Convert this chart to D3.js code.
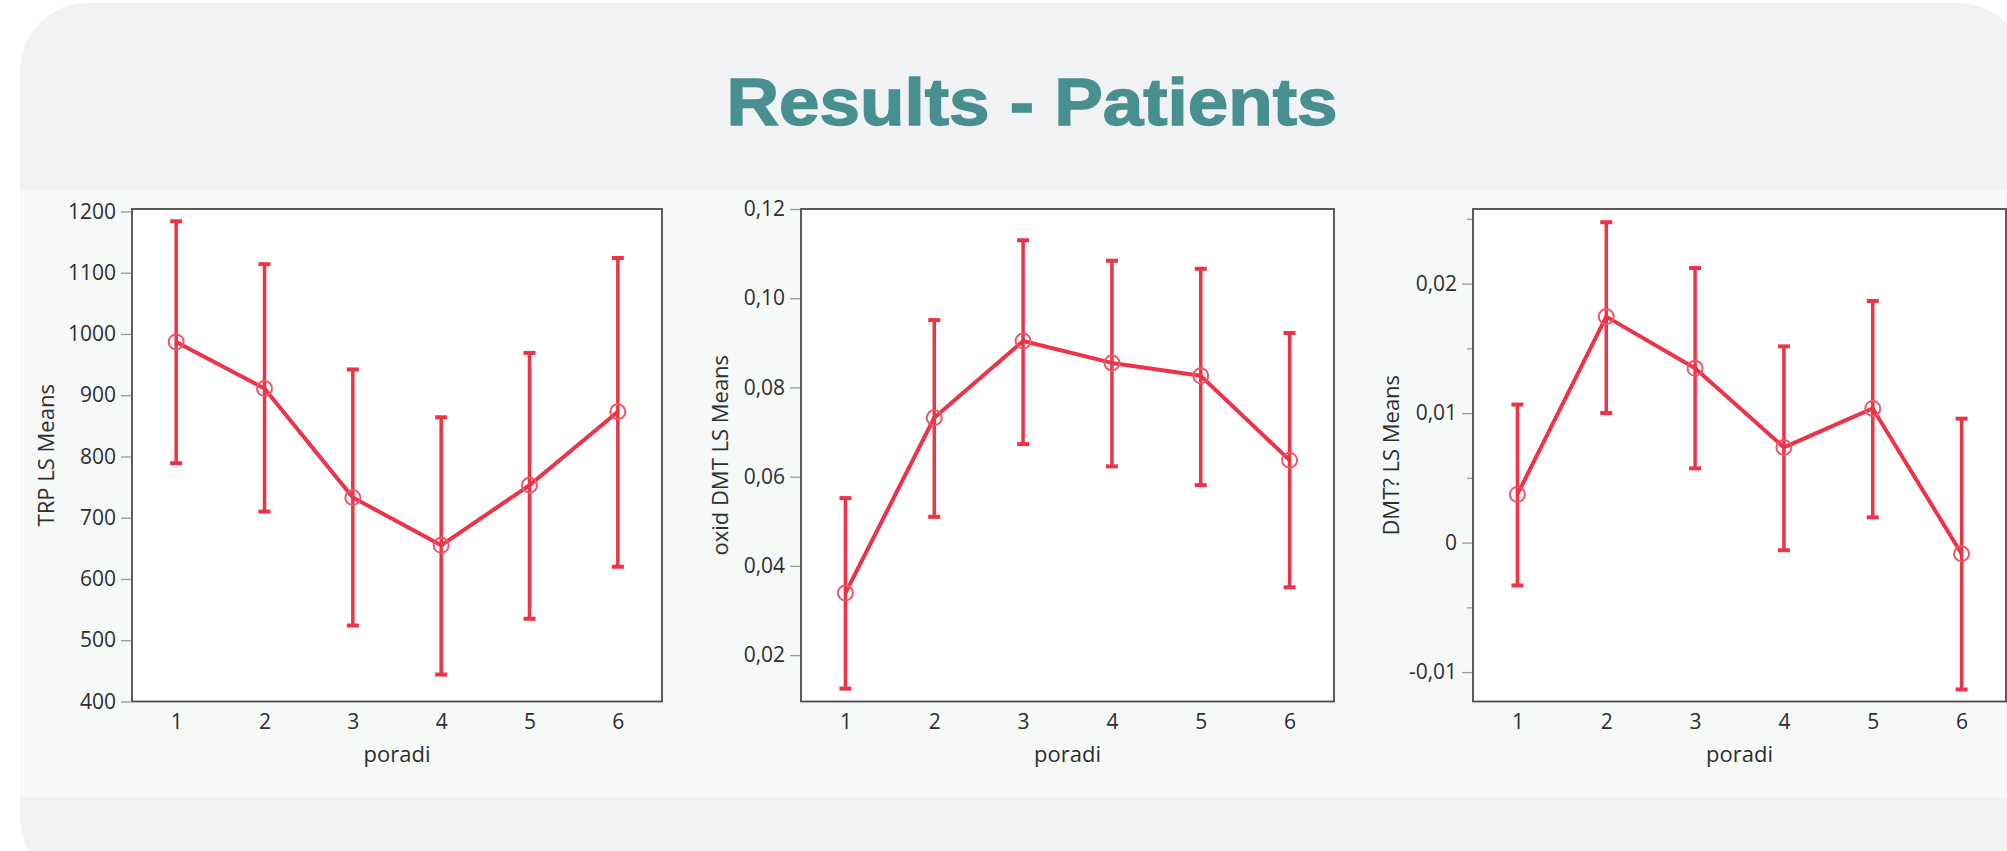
<!DOCTYPE html>
<html>
<head>
<meta charset="utf-8">
<script src="https://cdn.jsdelivr.net/npm/d3@7"></script>
<style>
  body { margin: 0; background: #fff; }
  svg { display: block; }
</style>
</head>
<body>
<svg id="chart"></svg>
<script>
// x categories
const poradi = [1, 2, 3, 4, 5, 6];

// TRP LS Means
const trpMean  = [987, 911, 733, 655, 753, 873];
const trpUpper = [1184, 1114, 942, 864, 969, 1124];
const trpLower = [789, 710, 524, 444, 535, 620];
const trpTicks = [400, 500, 600, 700, 800, 900, 1000, 1100, 1200];

// oxid DMT LS Means
const oxidMean  = [0.0339, 0.0732, 0.0904, 0.0855, 0.0826, 0.0637];
const oxidUpper = [0.0552, 0.0951, 0.1130, 0.1084, 0.1066, 0.0922];
const oxidLower = [0.0125, 0.0510, 0.0673, 0.0623, 0.0581, 0.0352];
const oxidTicks = [0.02, 0.04, 0.06, 0.08, 0.10, 0.12];

// DMT? LS Means
const dmtMean  = [0.00372, 0.01745, 0.01346, 0.00735, 0.01036, -0.00086];
const dmtUpper = [0.01066, 0.02474, 0.0212, 0.01515, 0.01866, 0.00957];
const dmtLower = [-0.00331, 0.0100, 0.00573, -0.00059, 0.00195, -0.01134];
const dmtTicks = [-0.01, 0, 0.01, 0.02];
const dmtMinorTicks = [-0.005, 0.005, 0.015, 0.025];

const width = 2007, height = 851;
const red = "#ec3348";
const font = "'Open Sans', 'Noto Sans', sans-serif";

const svg = d3.select("#chart")
    .attr("width", width)
    .attr("height", height);

// comma decimal, plain hyphen minus
const locale = d3.formatLocale({decimal: ",", thousands: " ", grouping: [3], currency: ["", ""], minus: "-"});
const f2 = locale.format(".2f");
const intFmt = locale.format("d");

// background card
svg.append("rect")
    .attr("x", 20).attr("y", 3)
    .attr("width", 2006).attr("height", 882)
    .attr("rx", 68)
    .attr("fill", "#f0f2f4");

// lighter band behind the charts
svg.append("rect")
    .attr("x", 20).attr("y", 190)
    .attr("width", 2000).attr("height", 607)
    .attr("fill", "#f7f8f8");

// title
svg.append("text")
    .attr("x", 1032).attr("y", 125)
    .attr("text-anchor", "middle")
    .attr("textLength", 611)
    .attr("lengthAdjust", "spacingAndGlyphs")
    .style("font-family", "'Liberation Sans', Arial, sans-serif")
    .style("font-weight", "bold")
    .style("font-size", "66px")
    .attr("fill", "#488f90")
    .attr("stroke", "#488f90")
    .attr("stroke-width", 1.4)
    .text("Results - Patients");

const plotTop = 209, plotBottom = 701.5;

const panels = [
    {left: 132, right: 662, domain: [400, 1204], mean: trpMean, lo: trpLower, hi: trpUpper,
     ticks: trpTicks, minor: [], fmt: intFmt, label: "TRP LS Means", labelX: 46},
    {left: 801, right: 1334, domain: [0.0096, 0.12], mean: oxidMean, lo: oxidLower, hi: oxidUpper,
     ticks: oxidTicks, minor: [], fmt: f2, label: "oxid DMT LS Means", labelX: 720},
    {left: 1473, right: 2006, domain: [-0.01227, 0.02576], mean: dmtMean, lo: dmtLower, hi: dmtUpper,
     ticks: dmtTicks, minor: dmtMinorTicks, fmt: d => d === 0 ? "0" : f2(d), label: "DMT? LS Means", labelX: 1391}
];

panels.forEach(p => {
    const x = d3.scaleLinear().domain([0.5, 6.5]).range([p.left, p.right]);
    const y = d3.scaleLinear().domain(p.domain).range([plotBottom, plotTop]);
    const g = svg.append("g");

    // plot area
    g.append("rect")
        .attr("x", p.left).attr("y", plotTop)
        .attr("width", p.right - p.left).attr("height", plotBottom - plotTop)
        .attr("fill", "#fff")
        .attr("stroke", "#4a4a4a")
        .attr("stroke-width", 1.8);

    // y axis
    const yAxis = g.append("g")
        .attr("transform", `translate(${p.left - 0.9},0)`)
        .call(d3.axisLeft(y).tickValues(p.ticks).tickSize(10).tickPadding(5).tickFormat(p.fmt));
    yAxis.select(".domain").remove();
    yAxis.selectAll(".tick line").attr("stroke", "#9a9a9a").attr("stroke-width", 1.3);
    yAxis.selectAll(".tick text")
        .attr("fill", "#2e2e2e")
        .style("font-family", font)
        .style("font-size", "21px");

    if (p.minor.length) {
        const minorAxis = g.append("g")
            .attr("transform", `translate(${p.left - 0.9},0)`)
            .call(d3.axisLeft(y).tickValues(p.minor).tickSize(5).tickFormat(""));
        minorAxis.select(".domain").remove();
        minorAxis.selectAll(".tick line").attr("stroke", "#9a9a9a").attr("stroke-width", 1.3);
    }

    // x axis
    const xAxis = g.append("g")
        .attr("transform", `translate(0,${plotBottom})`)
        .call(d3.axisBottom(x).tickValues(poradi).tickSize(0).tickPadding(13).tickFormat(d3.format("d")));
    xAxis.select(".domain").remove();
    xAxis.selectAll(".tick text")
        .attr("fill", "#2e2e2e")
        .style("font-family", font)
        .style("font-size", "21px");

    // axis titles
    g.append("text")
        .attr("transform", `translate(${p.labelX},${(plotTop + plotBottom) / 2}) rotate(-90)`)
        .attr("text-anchor", "middle")
        .attr("dy", "0.35em")
        .attr("fill", "#2e2e2e")
        .style("font-family", font)
        .style("font-size", "22px")
        .text(p.label);

    g.append("text")
        .attr("x", (p.left + p.right) / 2).attr("y", 762)
        .attr("text-anchor", "middle")
        .attr("fill", "#2e2e2e")
        .style("font-family", font)
        .style("font-size", "22px")
        .text("poradi");

    // error bars
    const bars = g.selectAll("g.err")
        .data(poradi)
        .enter().append("g")
        .attr("class", "err");

    bars.append("line")
        .attr("x1", d => x(d)).attr("x2", d => x(d))
        .attr("y1", (d, i) => y(p.hi[i])).attr("y2", (d, i) => y(p.lo[i]))
        .attr("stroke", red).attr("stroke-width", 3.5);

    bars.append("line")
        .attr("x1", d => x(d) - 6).attr("x2", d => x(d) + 6)
        .attr("y1", (d, i) => y(p.hi[i])).attr("y2", (d, i) => y(p.hi[i]))
        .attr("stroke", red).attr("stroke-width", 4);

    bars.append("line")
        .attr("x1", d => x(d) - 6).attr("x2", d => x(d) + 6)
        .attr("y1", (d, i) => y(p.lo[i])).attr("y2", (d, i) => y(p.lo[i]))
        .attr("stroke", red).attr("stroke-width", 4);

    // means line
    const line = d3.line()
        .x(d => x(d))
        .y((d, i) => y(p.mean[i]));

    g.append("path")
        .datum(poradi)
        .attr("fill", "none")
        .attr("stroke", red)
        .attr("stroke-width", 4)
        .attr("stroke-linejoin", "round")
        .attr("d", line);

    g.selectAll("circle")
        .data(poradi)
        .enter().append("circle")
        .attr("cx", d => x(d))
        .attr("cy", (d, i) => y(p.mean[i]))
        .attr("r", 7.5)
        .attr("fill", "none")
        .attr("stroke", "#f0566a")
        .attr("stroke-width", 2);
});
</script>
</body>
</html>
